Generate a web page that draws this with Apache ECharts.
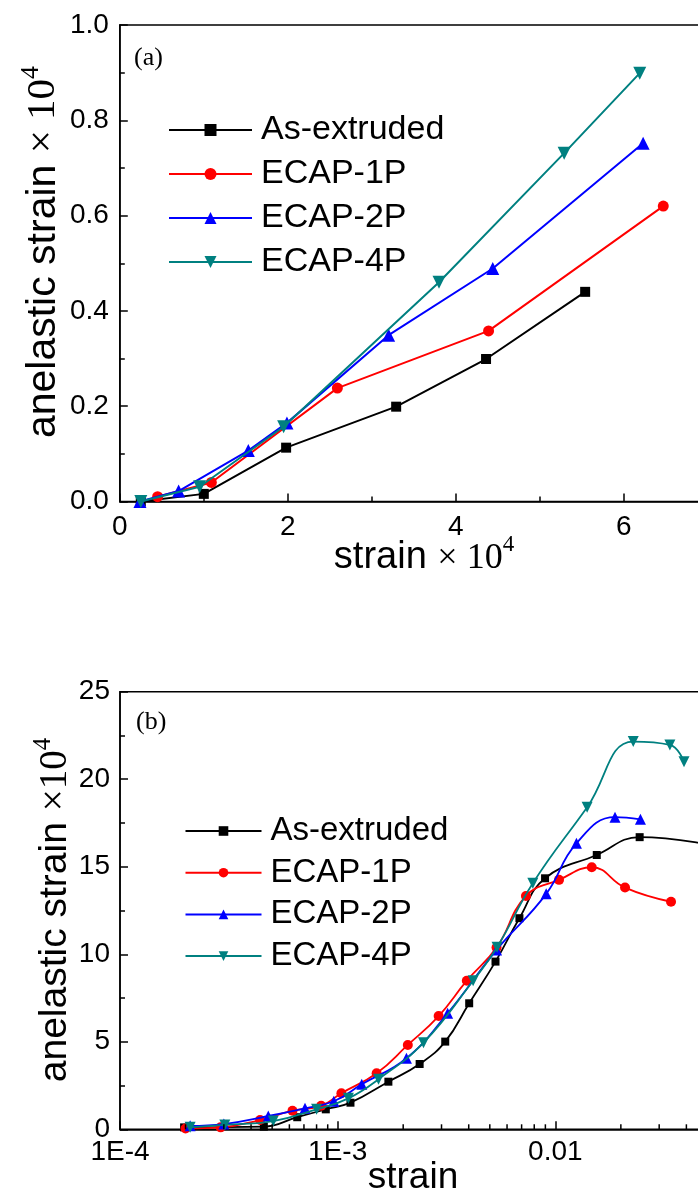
<!DOCTYPE html>
<html><head><meta charset="utf-8">
<script src="https://cdn.jsdelivr.net/npm/echarts@6/dist/echarts.min.js"></script>
<style>html,body{margin:0;padding:0;background:#fff}#c{width:698px;height:1200px}</style>
</head><body><div id="c"></div>
<script>
// ---------- data ----------
const seriesNames = ['As-extruded', 'ECAP-1P', 'ECAP-2P', 'ECAP-4P'];
// panel (a): strain x1e4 vs anelastic strain x1e4
const aAsExtruded = [[0.25,0.0],[1.0,0.016],[1.98,0.113],[3.29,0.199],[4.36,0.299],[5.54,0.44]];
const aECAP1P = [[0.45,0.01],[1.09,0.04],[2.59,0.238],[4.39,0.358],[6.47,0.62]];
const aECAP2P = [[0.24,0.0],[0.70,0.022],[1.53,0.107],[1.99,0.165],[3.2,0.349],[4.44,0.489],[6.23,0.752]];
const aECAP4P = [[0.25,0.0],[0.95,0.031],[1.95,0.157],[3.8,0.46],[5.29,0.731],[6.19,0.899]];
// panel (b): strain (log) vs anelastic strain x1e4
const bAsExtruded = [[1.97e-4,0.11],[4.58e-4,0.15],[6.52e-4,0.69],[8.82e-4,1.14],[1.145e-3,1.52],[1.71e-3,2.72],[2.38e-3,3.73],[3.12e-3,5.01],[4.02e-3,7.2],[5.31e-3,9.58],[6.84e-3,12.06],[8.97e-3,14.34],[0.0155,15.67],[0.0244,16.69],[0.06,16.1]];
const bECAP1P = [[2.0e-4,0.05],[2.9e-4,0.11],[4.4e-4,0.53],[6.2e-4,1.06],[8.4e-4,1.35],[1.04e-3,2.06],[1.51e-3,3.2],[2.1e-3,4.82],[2.91e-3,6.47],[3.92e-3,8.49],[5.37e-3,10.38],[7.33e-3,13.33],[0.0104,14.25],[0.0147,14.97],[0.0209,13.81],[0.034,13.0]];
const bECAP2P = [[2.1e-4,0.2],[3.0e-4,0.3],[4.8e-4,0.76],[7.08e-4,1.2],[9.6e-4,1.6],[1.29e-3,2.57],[2.07e-3,4.06],[3.2e-3,6.63],[5.37e-3,10.25],[9.08e-3,13.45],[0.0125,16.34],[0.0188,17.83],[0.0246,17.71]];
const bECAP4P = [[2.1e-4,0.11],[3.03e-4,0.25],[5.06e-4,0.47],[8.0e-4,1.14],[1.12e-3,1.77],[1.54e-3,2.86],[2.48e-3,4.95],[4.19e-3,8.49],[5.4e-3,10.4],[7.88e-3,14.06],[0.014,18.4],[0.0228,22.15],[0.0336,21.96],[0.039,21.0]];
// axis ranges / tick steps
const aYTicks = [0, 1.0, 0.2];
const aXTicks = [0, 8, 2];
const bYTicks = [0, 25, 5];
const bXRange = [1e-4, 0.1];
const bXMinorTicks = [];
[1e-4, 1e-3, 1e-2].forEach(d => { for (let k = 2; k <= 9; k++) bXMinorTicks.push(+(d * k).toPrecision(3)); });

// ---------- style ----------
const colors = ['#000000', '#ff0000', '#0000ff', '#008080'];
const symbols = ['rect', 'circle', 'triangle', 'triangle'];
const rotates = [0, 0, 0, 180];
const aSizes = [10, 11, 13, 13];
const bSizes = [8, 10, 11, 11];
const SANS = 'Liberation Sans';
const SERIF = 'Liberation Serif';

const axisCommon = {
  axisLine: { show: true, lineStyle: { color: '#000', width: 1.5 } },
  axisTick: { show: true, inside: true, length: 8, lineStyle: { color: '#000', width: 1.5 } },
  minorTick: { show: true, splitNumber: 2, length: 5, lineStyle: { color: '#000', width: 1.5 } },
  splitLine: { show: false },
  axisLabel: { color: '#000', fontFamily: SANS, fontSize: 28 }
};
function ax(extra) { return Object.assign({}, JSON.parse(JSON.stringify(axisCommon)), extra); }

const series = [];
const aData = [aAsExtruded, aECAP1P, aECAP2P, aECAP4P];
const bData = [bAsExtruded, bECAP1P, bECAP2P, bECAP4P];
aData.forEach((d, i) => series.push({
  type: 'line', name: seriesNames[i], xAxisIndex: 0, yAxisIndex: 0, data: d,
  symbol: symbols[i], symbolRotate: rotates[i], symbolSize: aSizes[i],
  lineStyle: { color: colors[i], width: 2 }, itemStyle: { color: colors[i] },
  z: 3 + i, animation: false
}));
bData.forEach((d, i) => series.push({
  type: 'line', name: seriesNames[i], xAxisIndex: 1, yAxisIndex: 1, data: d,
  smooth: 0.45, symbol: symbols[i], symbolRotate: rotates[i], symbolSize: bSizes[i],
  lineStyle: { color: colors[i], width: 1.8 }, itemStyle: { color: colors[i] },
  z: 3 + i, animation: false
}));
series.push({
  type: 'custom', xAxisIndex: 1, yAxisIndex: 1, silent: true, animation: false,
  data: bXMinorTicks.map(v => [v, 0]), clip: false, z: 10,
  renderItem: function (params, api) {
    const p = api.coord([api.value(0), 0]);
    return { type: 'line', shape: { x1: p[0], y1: p[1], x2: p[0], y2: p[1] - 5 }, style: { stroke: '#000', lineWidth: 1.5 } };
  }
});

const legendText = (fs, lh) => ({ color: '#000', fontFamily: SANS, fontSize: fs, lineHeight: lh, padding: [0, 0, 0, 4] });

const option = {
  animation: false,
  backgroundColor: '#fff',
  grid: [
    { left: 119.8, top: 25, width: 672, height: 476.5, show: true, borderColor: '#000', borderWidth: 1.5,
      backgroundColor: 'transparent', containLabel: false, outerBoundsMode: 'none' },
    { left: 120, top: 691.7, width: 653, height: 437.6, show: true, borderColor: '#000', borderWidth: 1.5,
      backgroundColor: 'transparent', containLabel: false, outerBoundsMode: 'none' }
  ],
  xAxis: [
    ax({ type: 'value', gridIndex: 0, min: aXTicks[0], max: aXTicks[1], interval: aXTicks[2],
      axisLabel: Object.assign({}, axisCommon.axisLabel, { margin: 12 }) }),
    ax({ type: 'log', gridIndex: 1, logBase: 10, min: bXRange[0], max: bXRange[1],
      minorTick: { show: false },
      axisLabel: Object.assign({}, axisCommon.axisLabel, { margin: 9,
        formatter: v => (v < 0.005 ? '1E' + Math.round(Math.log10(v)) : String(+v.toPrecision(2))) }) })
  ],
  yAxis: [
    ax({ type: 'value', gridIndex: 0, min: aYTicks[0], max: aYTicks[1], interval: aYTicks[2],
      axisLabel: Object.assign({}, axisCommon.axisLabel, { margin: 11, formatter: v => v.toFixed(1) }) }),
    ax({ type: 'value', gridIndex: 1, min: bYTicks[0], max: bYTicks[1], interval: bYTicks[2],
      axisLabel: Object.assign({}, axisCommon.axisLabel, { margin: 10 }) })
  ],
  legend: [
    { orient: 'vertical', left: 168, top: 111, padding: 0, itemWidth: 83, itemHeight: 15, itemGap: 6,
      data: seriesNames, textStyle: legendText(34, 38), selectedMode: false },
    { orient: 'vertical', left: 184.5, top: 813, padding: 0, itemWidth: 76, itemHeight: 12, itemGap: 5.7,
      data: seriesNames, textStyle: legendText(33, 36), selectedMode: false }
  ],
  graphic: [
    { type: 'text', x: 134, y: 58, style: { text: '(a)', font: '26px "Liberation Serif"', fill: '#000', verticalAlign: 'middle' } },
    { type: 'text', x: 136, y: 722, style: { text: '(b)', font: '26px "Liberation Serif"', fill: '#000', verticalAlign: 'middle' } },
    { type: 'text', x: 41, y: 252, rotation: Math.PI / 2,
      style: { text: '{m|anelastic strain }{s|× 10}{p|4}', align: 'center', verticalAlign: 'middle', fill: '#000',
        rich: { m: { fontFamily: SANS, fontSize: 41, lineHeight: 46, verticalAlign: 'bottom' },
                s: { fontFamily: SERIF, fontSize: 41, lineHeight: 46, verticalAlign: 'bottom' },
                p: { fontFamily: SERIF, fontSize: 26, lineHeight: 46, verticalAlign: 'top' } } } },
    { type: 'text', x: 53, y: 910, rotation: Math.PI / 2,
      style: { text: '{m|anelastic strain }{s|×10}{p|4}', align: 'center', verticalAlign: 'middle', fill: '#000',
        rich: { m: { fontFamily: SANS, fontSize: 39, lineHeight: 44, verticalAlign: 'bottom' },
                s: { fontFamily: SERIF, fontSize: 39, lineHeight: 44, verticalAlign: 'bottom' },
                p: { fontFamily: SERIF, fontSize: 25, lineHeight: 44, verticalAlign: 'top' } } } },
    { type: 'text', x: 424, y: 555,
      style: { text: '{m|strain }{s|× 10}{p|4}', align: 'center', verticalAlign: 'middle', fill: '#000',
        rich: { m: { fontFamily: SANS, fontSize: 38, lineHeight: 44, verticalAlign: 'bottom' },
                s: { fontFamily: SERIF, fontSize: 36, lineHeight: 44, verticalAlign: 'bottom' },
                p: { fontFamily: SERIF, fontSize: 23, lineHeight: 44, verticalAlign: 'top' } } } },
    { type: 'text', x: 413, y: 1178,
      style: { text: 'strain', align: 'center', verticalAlign: 'middle', fill: '#000', font: '37px "Liberation Sans"' } }
  ],
  series: series
};
const chart = echarts.init(document.getElementById('c'), null, { renderer: 'canvas' });
chart.setOption(option);
</script></body></html>
